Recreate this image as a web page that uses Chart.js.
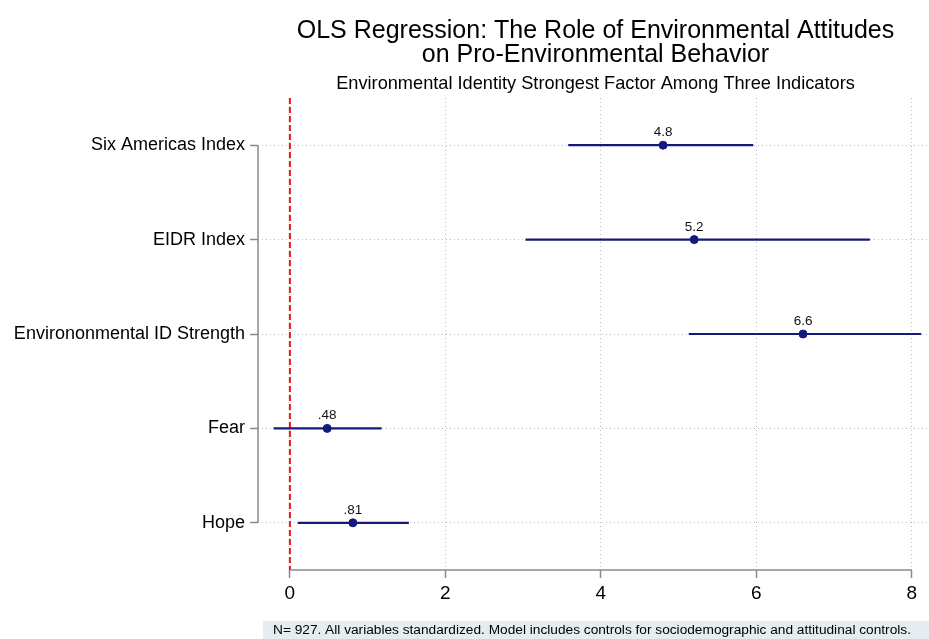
<!DOCTYPE html>
<html>
<head>
<meta charset="utf-8">
<script src="https://cdn.jsdelivr.net/npm/chart.js@4"></script>
<style>
  html, body { margin: 0; padding: 0; background: #ffffff; }
  #wrap { width: 929px; height: 639px; position: relative; }
</style>
</head>
<body>
<div id="wrap"><canvas id="c" width="929" height="639"></canvas></div>
<script>
// Predictors, top to bottom
const categories = ["Six Americas Index", "EIDR Index", "Environonmental ID Strength", "Fear", "Hope"];
// Point estimates (standardized coefficients)
const coef = [4.8, 5.2, 6.6, 0.48, 0.81];
// 95% confidence interval bounds
const ciLow = [3.58, 3.03, 5.13, -0.21, 0.10];
const ciHigh = [5.96, 7.46, 8.12, 1.18, 1.53];
// X axis tick values
const xTicks = [0, 2, 4, 6, 8];

const titleLines = ["OLS Regression: The Role of Environmental Attitudes", "on Pro-Environmental Behavior"];
const subtitleText = "Environmental Identity Strongest Factor Among Three Indicators";
const noteText = "N= 927. All variables standardized. Model includes controls for sociodemographic and attitudinal controls.";

const FONT = "'Liberation Sans', Arial, Helvetica, sans-serif";
const NAVY = "#14197c";
const AXIS_GRAY = "#8a8a8a";
const GRID_GRAY = "#bdbdbd";

function fmtCoef(v) {
  return String(v).replace(/^0\./, ".").replace(/^-0\./, "-.");
}

// One horizontal segment per predictor for its confidence interval
const ciDatasets = categories.map((c, i) => ({
  type: "line",
  data: [{ x: ciLow[i], y: i + 1 }, { x: ciHigh[i], y: i + 1 }],
  borderColor: NAVY,
  borderWidth: 2.2,
  pointRadius: 0,
  fill: false,
  clip: false,
  order: 2
}));

const pointDataset = {
  type: "scatter",
  data: coef.map((v, i) => ({ x: v, y: i + 1 })),
  backgroundColor: NAVY,
  borderColor: NAVY,
  pointRadius: 4,
  pointHoverRadius: 4,
  clip: false,
  order: 1
};

// Titles, reference line, trimmed axis lines, value labels and the note
const decorations = {
  id: "decorations",
  beforeDatasetsDraw(chart) {
    const { ctx, chartArea: a, scales: { x, y } } = chart;
    ctx.save();
    // zero reference line
    const x0 = x.getPixelForValue(0);
    ctx.strokeStyle = "#e8141b";
    ctx.lineWidth = 2;
    ctx.setLineDash([6, 3]);
    ctx.beginPath();
    ctx.moveTo(x0, a.top);
    ctx.lineTo(x0, a.bottom);
    ctx.stroke();
    ctx.setLineDash([]);
    // axis lines spanning only the tick range
    ctx.strokeStyle = AXIS_GRAY;
    ctx.lineWidth = 1.5;
    ctx.beginPath();
    ctx.moveTo(a.left, y.getPixelForValue(1));
    ctx.lineTo(a.left, y.getPixelForValue(categories.length));
    ctx.stroke();
    ctx.beginPath();
    ctx.moveTo(x.getPixelForValue(xTicks[0]), a.bottom);
    ctx.lineTo(x.getPixelForValue(xTicks[xTicks.length - 1]), a.bottom);
    ctx.stroke();
    ctx.restore();
  },
  afterDatasetsDraw(chart) {
    const { ctx, chartArea: a, scales: { x, y } } = chart;
    ctx.save();
    // coefficient labels above each marker
    ctx.fillStyle = "#111111";
    ctx.font = "13.5px " + FONT;
    ctx.textAlign = "center";
    ctx.textBaseline = "alphabetic";
    coef.forEach((v, i) => {
      ctx.fillText(fmtCoef(v), x.getPixelForValue(v), y.getPixelForValue(i + 1) - 9);
    });
    // title and subtitle
    const cx = (a.left + a.right) / 2 + 2;
    ctx.fillStyle = "#000000";
    ctx.font = "25px " + FONT;
    ctx.fillText(titleLines[0], cx, 38);
    ctx.fillText(titleLines[1], cx, 62);
    ctx.font = "18.2px " + FONT;
    ctx.fillText(subtitleText, cx, 89);
    // note with shaded background
    ctx.fillStyle = "#e6edf0";
    ctx.fillRect(a.left + 5, 621, chart.width - a.left - 5, chart.height - 621);
    ctx.fillStyle = "#000000";
    ctx.font = "13.7px " + FONT;
    ctx.textAlign = "left";
    ctx.fillText(noteText, a.left + 15, 634);
    ctx.restore();
  }
};

new Chart(document.getElementById("c"), {
  data: { datasets: [...ciDatasets, pointDataset] },
  options: {
    responsive: false,
    animation: false,
    layout: { autoPadding: false, padding: { top: 98, right: 0, bottom: 0, left: 0 } },
    plugins: {
      legend: { display: false },
      tooltip: { enabled: false },
      title: { display: false }
    },
    scales: {
      x: {
        type: "linear",
        min: -0.41,
        max: 8.22,
        afterFit(scale) {
          scale.height = 69;
          scale.paddingLeft = 0;
          scale.paddingRight = 0;
        },
        afterBuildTicks(scale) { scale.ticks = xTicks.map(v => ({ value: v })); },
        ticks: {
          color: "#000000",
          font: { family: FONT, size: 19 },
          padding: 4,
          callback: v => String(v)
        },
        grid: {
          color: GRID_GRAY,
          lineWidth: 1,
          tickColor: AXIS_GRAY,
          tickWidth: 1.5,
          tickLength: 8,
          tickBorderDash: []
        },
        border: { display: false, dash: [1, 3] }
      },
      y: {
        type: "linear",
        reverse: true,
        min: 0.5,
        max: categories.length + 0.5,
        afterFit(scale) {
          scale.width = 258;
          scale.paddingTop = 0;
          scale.paddingBottom = 0;
        },
        afterBuildTicks(scale) { scale.ticks = categories.map((c, i) => ({ value: i + 1 })); },
        ticks: {
          color: "#000000",
          font: { family: FONT, size: 18 },
          padding: 5,
          callback: v => categories[v - 1]
        },
        grid: {
          color: GRID_GRAY,
          lineWidth: 1,
          tickColor: AXIS_GRAY,
          tickWidth: 1.5,
          tickLength: 8,
          tickBorderDash: []
        },
        border: { display: false, dash: [1, 3] }
      }
    }
  },
  plugins: [decorations]
});
</script>
</body>
</html>
